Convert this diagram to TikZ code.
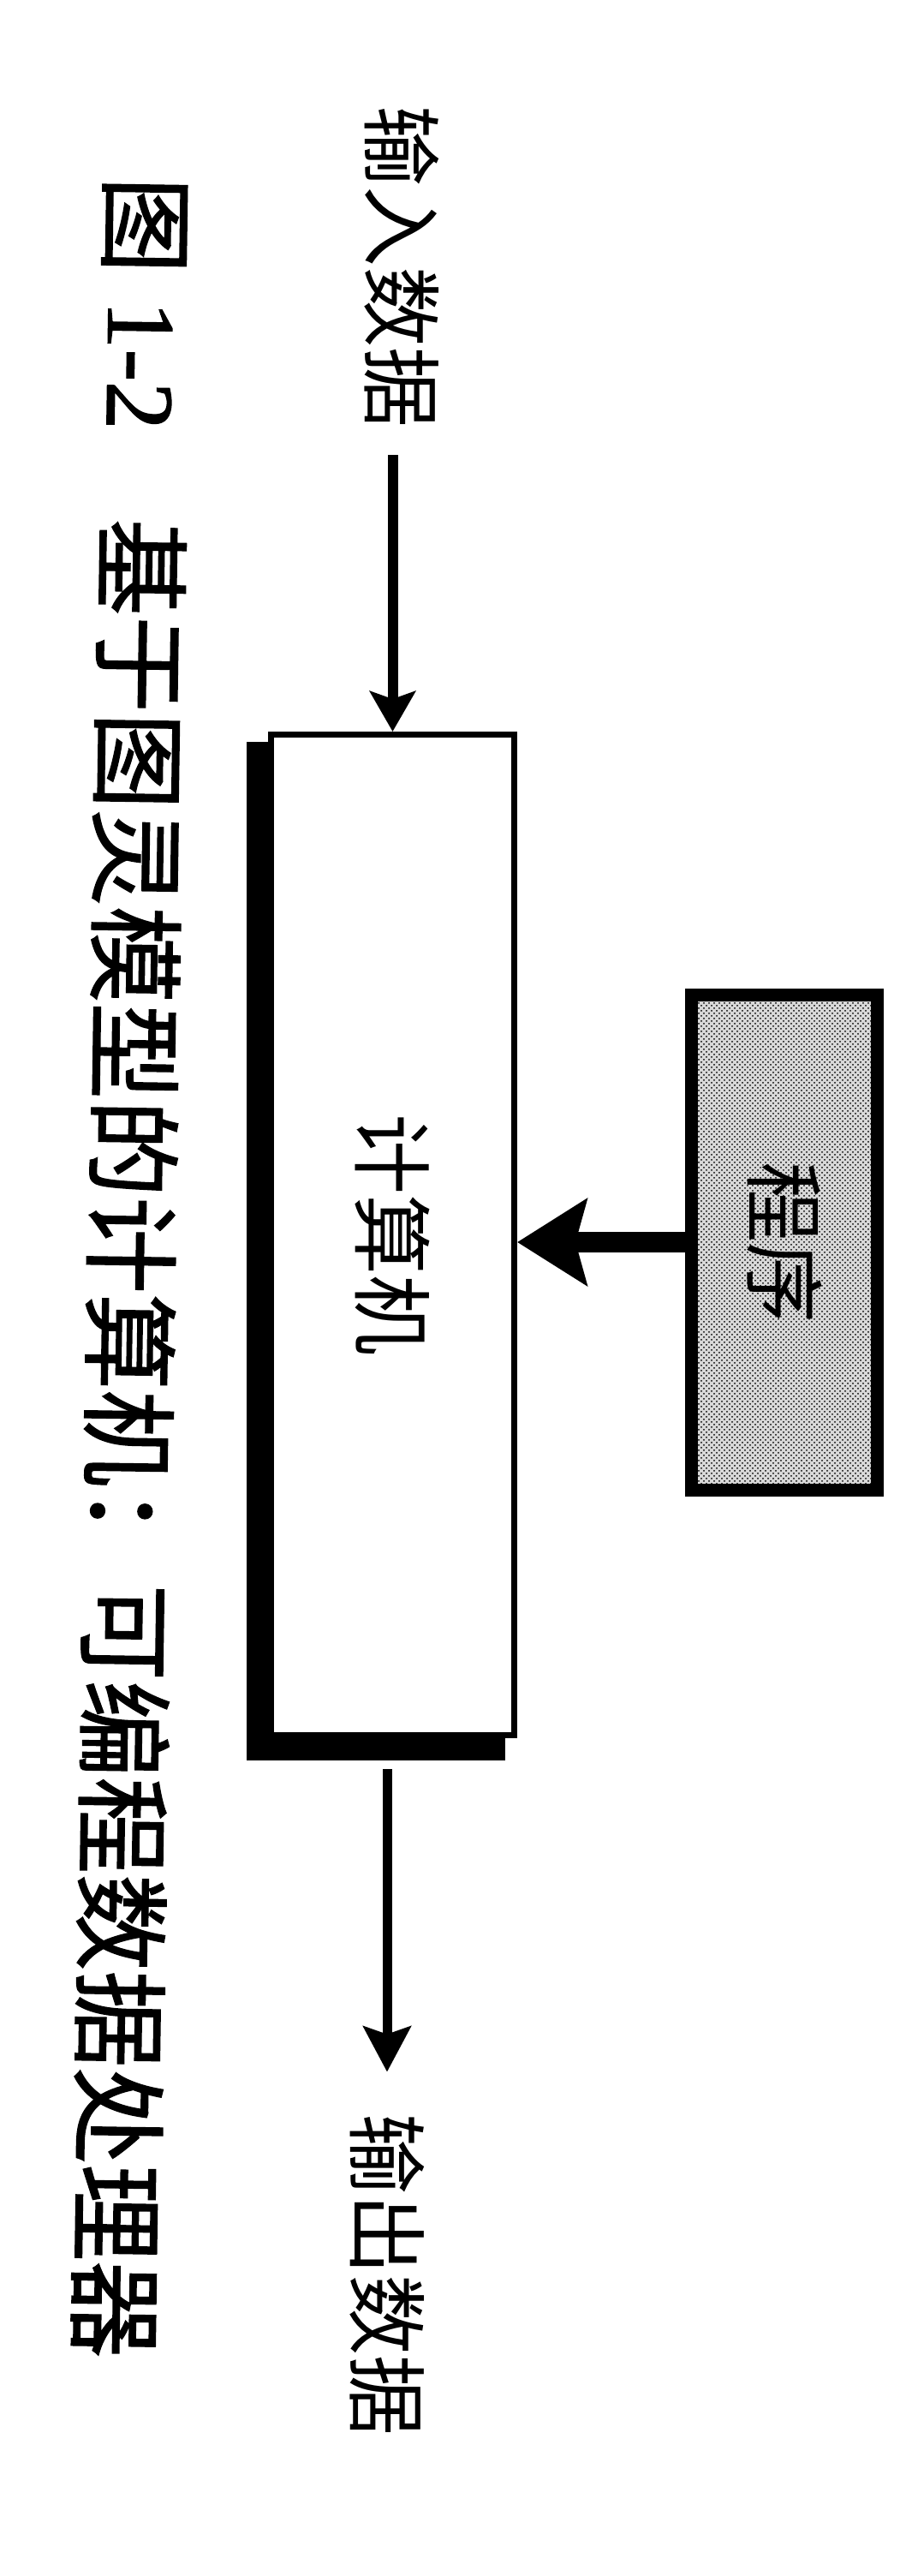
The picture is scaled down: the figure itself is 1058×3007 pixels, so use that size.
\documentclass[tikz,border=0pt]{standalone}
\usepackage{fontspec}
\newfontfamily\cjk{Noto Sans CJK SC}
\newfontfamily\cjkb[FakeBold=1.2]{Noto Sans CJK SC}
\newfontfamily\latb[FakeBold=1.2]{Liberation Serif}
\usetikzlibrary{arrows.meta,patterns}
\begin{document}
\begin{tikzpicture}[x=0.5pt,y=-0.5pt,
  lbl/.style={inner sep=0pt, font=\cjk\fontsize{47pt}{47pt}\selectfont},
  compbox/.style={draw=black, fill=white, line width=3.5pt, minimum width=142pt,
    minimum height=584pt, inner sep=0pt, font=\cjk\fontsize{47pt}{47pt}\selectfont},
  progbox/.style={draw=black, line width=7.5pt, preaction={fill=gray!30},
    pattern=crosshatch dots, pattern color=black, minimum width=108.5pt,
    minimum height=289pt, inner sep=0pt, font=\cjk\fontsize{47pt}{47pt}\selectfont},
  captext/.style={inner sep=0pt, font=\cjkb\fontsize{56.5pt}{56.5pt}\selectfont},
  inarrow/.style={line width=6pt, -{Stealth[length=23.5pt,width=26.5pt,inset=4.5pt]}},
  outarrow/.style={line width=5.5pt, -{Stealth[length=26.5pt,width=27.5pt,inset=4.5pt]}},
  progarrow/.style={line width=12pt, -{Stealth[length=40.5pt,width=50pt,inset=6.5pt]}}
]
\fill[white] (0,0) rectangle (1058,3007);
\useasboundingbox (0,0) rectangle (1058,3007);

% shadow of the computer box
\fill[black] (288,866) rectangle (590,2055);

\node[compbox] (comp) at (458.5,1441.5) {\rotatebox{-90}{计算机}};
\node[progbox] (prog) at (916,1450) {\rotatebox{-90}{程序}};
\node[lbl] (in) at (469,312) {\rotatebox{-90}{输入数据}};
\node[lbl] (out) at (452,2655) {\rotatebox{-90}{输出数据}};
\node[captext, rotate=-90.85, anchor=west] (cap) at (172,206)
  {图\hspace{16pt}{\latb 1-2}\hspace{52pt}基于图灵模型的计算机：可编程数据处理器};

\draw[inarrow, shorten <=15.5pt] (in.south -| comp.north) -- (comp.north);
\draw[outarrow, shorten <=18pt, shorten >=24pt] (comp.south -| out.north) -- (out.north);
\draw[progarrow] (prog.west) -- (prog.west -| comp.east);
\end{tikzpicture}
\end{document}
